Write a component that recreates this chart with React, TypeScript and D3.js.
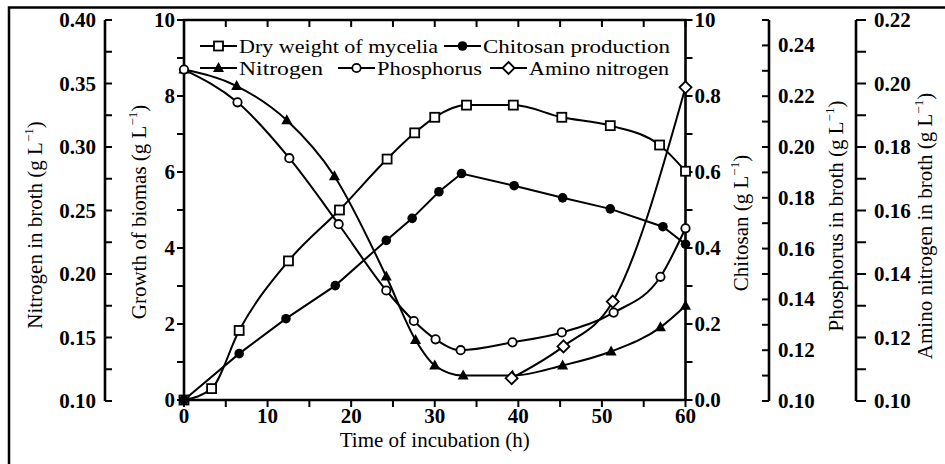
import React from 'react';
import * as d3 from 'd3';

const width = 945;
const height = 464;

// values (time in h)
const dryTime = [0, 3.3, 6.6, 12.5, 18.6, 24.3, 27.6, 30.0, 33.8, 39.4, 45.2, 51.0, 56.9, 60];
const dryWeight = [0, 0.3, 1.83, 3.66, 5.0, 6.34, 7.03, 7.44, 7.76, 7.76, 7.44, 7.22, 6.71, 6.02];

const chitosanTime = [0, 6.6, 12.2, 18.1, 24.2, 27.3, 30.5, 33.2, 39.5, 45.3, 51.0, 57.3, 60];
const chitosan = [0, 0.122, 0.214, 0.301, 0.42, 0.478, 0.548, 0.596, 0.564, 0.532, 0.503, 0.456, 0.41];

const nitrogenTime = [0, 6.3, 12.3, 18.0, 24.2, 27.7, 30.0, 33.4, 39.3, 45.3, 51.1, 57.0, 60];
const nitrogen = [0.361, 0.348, 0.321, 0.277, 0.198, 0.148, 0.128, 0.12, 0.12, 0.128, 0.139, 0.158, 0.175];

const phosphorusTime = [0, 6.4, 12.6, 18.5, 24.2, 27.5, 30.1, 33.1, 39.3, 45.2, 51.4, 57.0, 60];
const phosphorus = [0.2305, 0.2176, 0.1956, 0.1696, 0.1435, 0.1315, 0.1243, 0.12, 0.1231, 0.127, 0.1348, 0.1489, 0.168];

const aminoTime = [39.2, 45.4, 51.3, 60];
const aminoNitrogen = [0.1072, 0.1172, 0.1313, 0.1988];

// tick labels
const timeTicks = [0, 10, 20, 30, 40, 50, 60];
const bioTicks = [0, 2, 4, 6, 8, 10];
const chitosanTicks = [0, 0.2, 0.4, 0.6, 0.8, 1.0];
const chitosanTickLabels = ['0.0', '0.2', '0.4', '0.6', '0.8', '10'];
const nitrogenTicks = [0.1, 0.15, 0.2, 0.25, 0.3, 0.35, 0.4];
const phosphorusTicks = [0.1, 0.12, 0.14, 0.16, 0.18, 0.2, 0.22, 0.24];
const aminoTicks = [0.1, 0.12, 0.14, 0.16, 0.18, 0.2, 0.22];

const legendLabels = [
  ['Dry weight of mycelia', 'Chitosan production'],
  ['Nitrogen', 'Phosphorus', 'Amino nitrogen'],
];

const FONT = "'Liberation Serif', 'Times New Roman', Tinos, 'DejaVu Serif', serif";

const x = d3.scaleLinear().domain([0, 60]).range([184, 685.5]);
const yBio = d3.scaleLinear().domain([0, 10]).range([400, 20]);
const yChit = d3.scaleLinear().domain([0, 1]).range([400, 20]);
const yN = d3.scaleLinear().domain([0.1, 0.4]).range([401, 20]);
const yP = d3.scaleLinear().domain([0.1, 0.25]).range([401, 20]);
const yA = d3.scaleLinear().domain([0.1, 0.22]).range([401, 20]);

type Shape = 'square' | 'dot' | 'triangle' | 'circle' | 'diamond';

const Marker = ({ shape, cx, cy }: { shape: Shape; cx: number; cy: number }) => {
  const sw = 1.8;
  if (shape === 'square')
    return <rect x={cx - 4.5} y={cy - 4.5} width={9} height={9} fill="#fff" stroke="#000" strokeWidth={sw} />;
  if (shape === 'dot') return <circle cx={cx} cy={cy} r={4.8} fill="#000" />;
  if (shape === 'circle') return <circle cx={cx} cy={cy} r={4.2} fill="#fff" stroke="#000" strokeWidth={sw} />;
  if (shape === 'triangle')
    return <path d={`M${cx},${cy - 6}L${cx + 5.5},${cy + 4}L${cx - 5.5},${cy + 4}Z`} fill="#000" />;
  return (
    <path
      d={`M${cx},${cy - 6}L${cx + 6},${cy}L${cx},${cy + 6}L${cx - 6},${cy}Z`}
      fill="#fff"
      stroke="#000"
      strokeWidth={sw}
    />
  );
};

const series = [
  { key: 'dry', t: dryTime, v: dryWeight, y: yBio, shape: 'square' as Shape, curve: d3.curveMonotoneX },
  { key: 'chit', t: chitosanTime, v: chitosan, y: yChit, shape: 'dot' as Shape, curve: d3.curveLinear },
  { key: 'n', t: nitrogenTime, v: nitrogen, y: yN, shape: 'triangle' as Shape, curve: d3.curveMonotoneX },
  { key: 'p', t: phosphorusTime, v: phosphorus, y: yP, shape: 'circle' as Shape, curve: d3.curveMonotoneX },
  { key: 'a', t: aminoTime, v: aminoNitrogen, y: yA, shape: 'diamond' as Shape, curve: d3.curveMonotoneX },
];

// legend layout: symbol start x and text width for each label
const legendShapes: Shape[][] = [
  ['square', 'dot'],
  ['triangle', 'circle', 'diamond'],
];
const legendX = [
  [200, 444],
  [200, 338, 490],
];
const legendW = [
  [199, 187],
  [84, 105, 140],
];

const Unit = () => (
  <>
    <tspan>(g L</tspan>
    <tspan dy={-9} fontSize={13}>−1</tspan>
    <tspan dy={9}>)</tspan>
  </>
);

const fmt2 = d3.format('.2f');

export default function App() {
  const tickW = 2;
  const axW = 2.6;
  const minorX = d3.range(0, 61, 5);
  const minorBio = d3.range(0, 11, 1);
  const minorChit = d3.range(0, 1.001, 0.1);
  const minorN = d3.range(0.1, 0.4001, 0.025);
  const minorP = d3.range(0.1, 0.2501, 0.01);
  const minorA = d3.range(0.1, 0.2201, 0.01);
  const xL = x.range()[0];
  const xR = x.range()[1];
  const yTop = yBio.range()[1];
  const yBot = yBio.range()[0];
  const nAxisX = 105;
  const pAxisX = 769;
  const aAxisX = 856;

  return (
    <svg
      width={width}
      height={height}
      style={{ position: 'absolute', left: 0, top: 0, background: '#fff', fontFamily: FONT }}
    >
      {/* outer frame (cropped) */}
      <path d={`M9,${height}V7.5H${width}`} fill="none" stroke="#000" strokeWidth={2.5} />

      {/* main plot frame */}
      <path d={`M${xL},${yTop}V${yBot}H${xR}V${yTop}Z`} fill="none" stroke="#000" strokeWidth={axW} />

      {/* x ticks bottom (out) and top (in) */}
      {minorX.map((t) => (
        <g key={'xt' + t} stroke="#000" strokeWidth={tickW}>
          <line x1={x(t)} x2={x(t)} y1={yBot} y2={yBot + 7} />
          <line x1={x(t)} x2={x(t)} y1={yTop} y2={yTop + 7} />
        </g>
      ))}
      {timeTicks.map((t) => (
        <text key={'xl' + t} x={x(t)} y={yBot + 23} textAnchor="middle" fontSize={21} fontWeight="bold">
          {t}
        </text>
      ))}
      <text x={(xL + xR) / 2} y={447} textAnchor="middle" fontSize={21}>
        Time of incubation (h)
      </text>

      {/* left biomass axis */}
      {minorBio.map((v) => (
        <line key={'bt' + v} x1={xL - 7} x2={xL} y1={yBio(v)} y2={yBio(v)} stroke="#000" strokeWidth={tickW} />
      ))}
      {bioTicks.map((v) => (
        <text key={'bl' + v} x={xL - 9} y={yBio(v) + 7} textAnchor="end" fontSize={21} fontWeight="bold">
          {v}
        </text>
      ))}
      <text transform={`translate(146,212) rotate(-90)`} textAnchor="middle" fontSize={21}>
        Growth of biomas <Unit />
      </text>

      {/* nitrogen axis */}
      <line x1={nAxisX} x2={nAxisX} y1={yN(0.4)} y2={yN(0.1)} stroke="#000" strokeWidth={axW} />
      {minorN.map((v) => (
        <line key={'nt' + v} x1={nAxisX} x2={nAxisX + 7} y1={yN(v)} y2={yN(v)} stroke="#000" strokeWidth={tickW} />
      ))}
      {nitrogenTicks.map((v) => (
        <text key={'nl' + v} x={nAxisX - 9} y={yN(v) + 7} textAnchor="end" fontSize={21} fontWeight="bold">
          {fmt2(v)}
        </text>
      ))}
      <text transform={`translate(42,225) rotate(-90)`} textAnchor="middle" fontSize={21}>
        Nitrogen in broth <Unit />
      </text>

      {/* chitosan axis (right of plot) */}
      {minorChit.map((v) => (
        <line key={'ct' + v} x1={xR} x2={xR + 7} y1={yChit(v)} y2={yChit(v)} stroke="#000" strokeWidth={tickW} />
      ))}
      {chitosanTicks.map((v, i) => (
        <text key={'cl' + v} x={xR + 9} y={yChit(v) + 7} fontSize={21} fontWeight="bold">
          {chitosanTickLabels[i]}
        </text>
      ))}
      <text transform={`translate(748,223) rotate(-90)`} textAnchor="middle" fontSize={21}>
        Chitosan <Unit />
      </text>

      {/* phosphorus axis */}
      <line x1={pAxisX} x2={pAxisX} y1={yP(0.25)} y2={yP(0.1)} stroke="#000" strokeWidth={axW} />
      {minorP.map((v) => (
        <line key={'pt' + v} x1={pAxisX - 7} x2={pAxisX} y1={yP(v)} y2={yP(v)} stroke="#000" strokeWidth={tickW} />
      ))}
      {phosphorusTicks.map((v) => (
        <text key={'pl' + v} x={pAxisX + 9} y={yP(v) + 7} fontSize={21} fontWeight="bold">
          {fmt2(v)}
        </text>
      ))}
      <text transform={`translate(843,216) rotate(-90)`} textAnchor="middle" fontSize={21}>
        Phosphorus in broth <Unit />
      </text>

      {/* amino nitrogen axis */}
      <line x1={aAxisX} x2={aAxisX} y1={yA(0.22)} y2={yA(0.1)} stroke="#000" strokeWidth={axW} />
      {minorA.map((v) => (
        <line key={'at' + v} x1={aAxisX} x2={aAxisX + 10} y1={yA(v)} y2={yA(v)} stroke="#000" strokeWidth={tickW} />
      ))}
      {aminoTicks.map((v) => (
        <text key={'al' + v} x={aAxisX + 18} y={yA(v) + 7} fontSize={21} fontWeight="bold">
          {fmt2(v)}
        </text>
      ))}
      <text transform={`translate(932,226) rotate(-90)`} textAnchor="middle" fontSize={21}>
        Amino nitrogen in broth <Unit />
      </text>

      {/* series lines */}
      {series.map((s) => {
        const pts: [number, number][] = s.t.map((t, i) => [x(t), s.y(s.v[i])]);
        const line = d3.line().curve(s.curve);
        return <path key={'l' + s.key} d={line(pts) || ''} fill="none" stroke="#000" strokeWidth={2} />;
      })}
      {series.map((s) => (
        <g key={'m' + s.key}>
          {s.t.map((t, i) => (
            <Marker key={i} shape={s.shape} cx={x(t)} cy={s.y(s.v[i])} />
          ))}
        </g>
      ))}

      {/* legend */}
      {legendLabels.map((row, r) =>
        row.map((label, j) => {
          const cy = 46 + r * 22;
          const x0 = legendX[r][j];
          return (
            <g key={label}>
              <line x1={x0} x2={x0 + 37} y1={cy} y2={cy} stroke="#000" strokeWidth={2} />
              <Marker shape={legendShapes[r][j]} cx={x0 + 18.5} cy={cy} />
              <text
                x={x0 + 39}
                y={cy + 6.5}
                fontSize={19}
                textLength={legendW[r][j]}
                lengthAdjust="spacingAndGlyphs"
              >
                {label}
              </text>
            </g>
          );
        })
      )}
    </svg>
  );
}
